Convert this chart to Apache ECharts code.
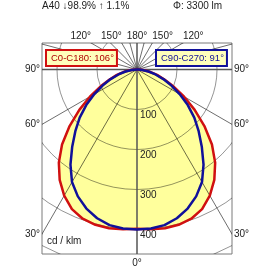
<!DOCTYPE html>
<html>
<head>
<meta charset="utf-8">
<script src="https://cdn.jsdelivr.net/npm/echarts@6/dist/echarts.min.js"></script>
<style>
html, body { margin: 0; padding: 0; background: #fff; }
#chart { width: 270px; height: 270px; }
</style>
</head>
<body>
<div id="chart"></div>
<script>
// luminous intensity, cd/klm, per gamma angle (symmetric halves)
const gammas = [0, 5, 10, 15, 20, 25, 30, 35, 40, 45, 50, 55, 60, 65, 70, 75, 80, 85, 90, 180];
const c0c180 = [398, 401, 403, 402, 397, 385, 364, 337, 304, 265, 220, 176, 136, 101, 73, 52, 33, 15, 4, 0];
const c90c270 = [400, 399, 395, 385, 370, 350, 325, 290, 252, 218, 187, 155, 123, 95, 70, 48, 29, 13, 4, 0];

const ringValues = [100, 200, 300, 400, 500];
const ringLabels = [100, 200, 300, 400];
const spokeAngles = [30, 60, 105, 120, 135, 150, 165];
const angleLabels = [30, 60, 90, 120, 150];

const X_MIN = -237.5, X_MAX = 237.5, Y_MIN = -461.25, Y_MAX = 66.25;
const FONT = 'Liberation Sans, Arial, sans-serif';

function polarToXY(I, g, side) {
    const a = g * Math.PI / 180;
    return [side * I * Math.sin(a), -I * Math.cos(a)];
}

function curvePoints(values) {
    const left = gammas.map((g, i) => polarToXY(values[i], g, -1)).reverse();
    const right = gammas.map((g, i) => polarToXY(values[i], g, 1));
    return left.concat(right.slice(1));
}

const curves = [curvePoints(c0c180), curvePoints(c90c270)];

const spokeData = [];
spokeAngles.forEach(g => { spokeData.push([g, -1]); spokeData.push([g, 1]); });

const labelData = [[0, 0], [180, 0]];
angleLabels.forEach(g => { labelData.push([g, -1]); labelData.push([g, 1]); });

const chart = echarts.init(document.getElementById('chart'));

chart.setOption({
    animation: false,
    textStyle: { fontFamily: FONT },
    title: [
        { text: 'A40 ↓98.9% ↑ 1.1%', left: 42, top: 1, padding: 0,
          textStyle: { fontSize: 10, fontWeight: 'normal', color: '#222', fontFamily: FONT } },
        { text: 'Φ: 3300 lm', left: 173, top: 1, padding: 0,
          textStyle: { fontSize: 10, fontWeight: 'normal', color: '#222', fontFamily: FONT } },
        { text: 'cd / klm', left: 47, top: 236, padding: 0,
          textStyle: { fontSize: 10, fontWeight: 'normal', color: '#222', fontFamily: FONT } }
    ],
    legend: [
        { data: ['C0-C180: 106°'], left: 46, top: 50, icon: 'none', itemWidth: 0, itemHeight: 0,
          padding: [3, 3, 3, 0], backgroundColor: '#ffffbb', borderColor: '#d01010', borderWidth: 2,
          selectedMode: false, z: 10,
          textStyle: { color: '#b00000', fontSize: 9.5, fontFamily: FONT } },
        { data: ['C90-C270: 91°'], left: 156, top: 50, icon: 'none', itemWidth: 0, itemHeight: 0,
          padding: [3, 3, 3, 0], backgroundColor: '#ffffbb', borderColor: '#10109a', borderWidth: 2,
          selectedMode: false, z: 10,
          textStyle: { color: '#10109a', fontSize: 9.5, fontFamily: FONT } }
    ],
    grid: { left: 42, top: 43, width: 190, height: 211, show: true,
            borderColor: '#7a7a7a', borderWidth: 1, backgroundColor: 'transparent' },
    xAxis: { type: 'value', min: X_MIN, max: X_MAX, show: false },
    yAxis: { type: 'value', min: Y_MIN, max: Y_MAX, show: false },
    series: [
        {
            type: 'custom', name: 'fill', silent: true, clip: true, z: 1,
            data: [[0], [1]],
            renderItem: function (params, api) {
                const pts = curves[api.value(0)].map(p => api.coord(p));
                return { type: 'polygon', shape: { points: pts },
                         style: { fill: '#ffff9c' } };
            }
        },
        {
            type: 'custom', name: 'rings', silent: true, clip: true, z: 2,
            data: ringValues.map(v => [v]),
            renderItem: function (params, api) {
                const c = api.coord([0, 0]);
                const r = api.size([api.value(0), 0])[0];
                return { type: 'circle', shape: { cx: c[0], cy: c[1], r: r },
                         style: { fill: 'none', stroke: 'rgba(0,0,0,0.42)', lineWidth: 1 } };
            }
        },
        {
            type: 'custom', name: 'spokes', silent: true, clip: true, z: 2,
            data: spokeData,
            renderItem: function (params, api) {
                const c = api.coord([0, 0]);
                const e = api.coord(polarToXY(800, api.value(0), api.value(1)));
                return { type: 'line', shape: { x1: c[0], y1: c[1], x2: e[0], y2: e[1] },
                         style: { stroke: 'rgba(0,0,0,0.72)', lineWidth: 0.8 } };
            }
        },
        {
            type: 'custom', name: 'axes', silent: true, clip: true, z: 2,
            data: [[0], [90]],
            renderItem: function (params, api) {
                const vertical = api.value(0) === 0;
                const a = api.coord(vertical ? [0, Y_MIN] : [X_MIN, 0]);
                const b = api.coord(vertical ? [0, Y_MAX] : [X_MAX, 0]);
                return { type: 'line', shape: { x1: a[0], y1: a[1], x2: b[0], y2: b[1] },
                         style: { stroke: '#555', lineWidth: 1.5 } };
            }
        },
        {
            type: 'line', name: 'C0-C180: 106°', data: curves[0], showSymbol: false,
            smooth: false, z: 3, silent: true, color: '#d01010',
            lineStyle: { color: '#d01010', width: 2.5, join: 'round' }
        },
        {
            type: 'line', name: 'C90-C270: 91°', data: curves[1], showSymbol: false,
            smooth: false, z: 3, silent: true, color: '#10109a',
            lineStyle: { color: '#10109a', width: 2.5, join: 'round' }
        },
        {
            type: 'custom', name: 'ringLabels', silent: true, clip: false, z: 4,
            data: ringLabels.map(v => [v]),
            renderItem: function (params, api) {
                const v = api.value(0);
                const p = api.coord([0, -v]);
                return { type: 'text', x: p[0] + 3, y: p[1] + 6,
                         style: { text: String(v), fill: '#222', fontSize: 10, fontFamily: FONT,
                                  align: 'left', verticalAlign: 'middle' } };
            }
        },
        {
            type: 'custom', name: 'angleLabels', silent: true, clip: false, z: 4,
            data: labelData,
            renderItem: function (params, api) {
                const g = api.value(0), side = api.value(1);
                const d = polarToXY(1, g, side);
                let t = Infinity, edge = '';
                if (d[0] > 1e-9 && X_MAX / d[0] < t) { t = X_MAX / d[0]; edge = 'right'; }
                if (d[0] < -1e-9 && X_MIN / d[0] < t) { t = X_MIN / d[0]; edge = 'left'; }
                if (d[1] > 1e-9 && Y_MAX / d[1] < t) { t = Y_MAX / d[1]; edge = 'top'; }
                if (d[1] < -1e-9 && Y_MIN / d[1] < t) { t = Y_MIN / d[1]; edge = 'bottom'; }
                const p = api.coord([d[0] * t, d[1] * t]);
                let x = p[0], y = p[1], align = 'center', va = 'middle';
                if (edge === 'left') { x -= 2; align = 'right'; }
                else if (edge === 'right') { x += 2; align = 'left'; }
                else if (edge === 'top') {
                    y -= 2; va = 'bottom';
                    align = side < 0 ? 'right' : (side > 0 ? 'left' : 'center');
                }
                else { y += 4; va = 'top'; }
                return { type: 'text', x: x, y: y,
                         style: { text: g + '°', fill: '#222', fontSize: 10, fontFamily: FONT,
                                  align: align, verticalAlign: va } };
            }
        }
    ]
});
</script>
</body>
</html>
